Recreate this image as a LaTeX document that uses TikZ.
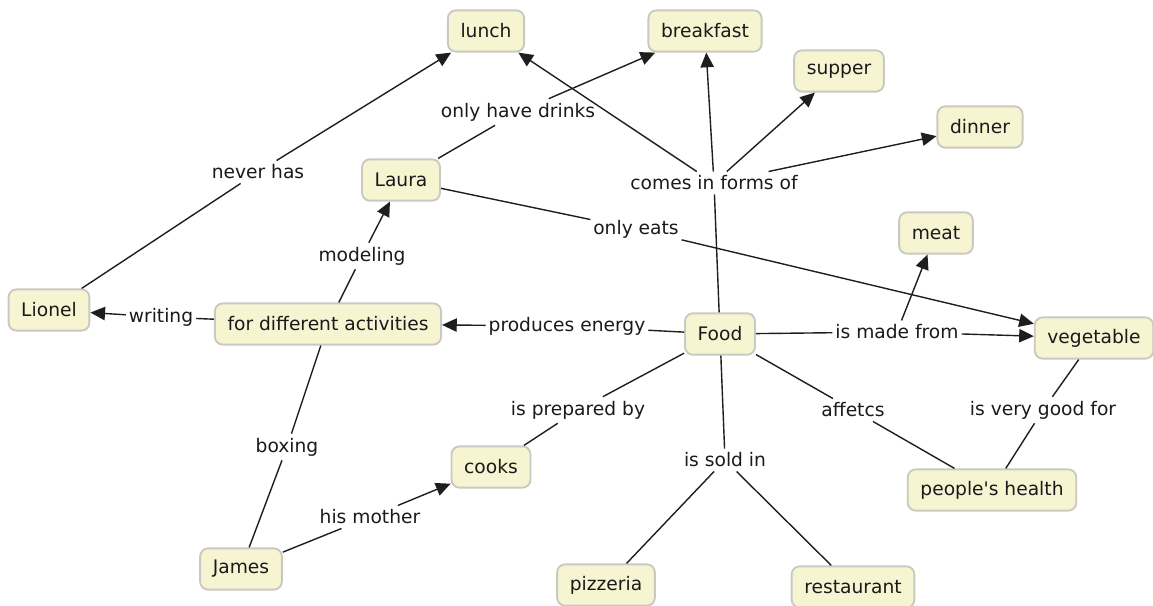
\documentclass[tikz,border=0pt]{standalone}
\usepackage{fontspec}
\setmainfont{DejaVu Sans}[Ligatures=TeXOff]
\usetikzlibrary{arrows.meta}
\definecolor{conceptfill}{HTML}{F7F4D2}
\definecolor{conceptdraw}{HTML}{C9C9C1}
\definecolor{linkcol}{HTML}{1E1E1E}
\definecolor{textcol}{HTML}{1A1A1A}
\begin{document}
\begin{tikzpicture}[x=0.75pt,y=-0.75pt,
  every node/.style={font=\fontsize{14}{16}\selectfont, text=textcol},
  concept/.style={draw=conceptdraw, fill=conceptfill, line width=1.4pt,
    rounded corners=6pt, inner xsep=9.5pt, minimum height=31pt},
  lbl/.style={fill=white, inner xsep=2pt, inner ysep=3pt},
  link/.style={draw=linkcol, line width=1.05pt},
  arr/.style={link, -{Triangle[length=11pt,width=10pt]}}]
\useasboundingbox (0,0) rectangle (1153,606);

% concepts
\node[concept] (lunch)     at (486,31)  {lunch};
\node[concept] (breakfast) at (705,31)  {breakfast};
\node[concept] (supper)    at (839,71)  {supper};
\node[concept] (dinner)    at (980,127) {dinner};
\node[concept] (laura)     at (401,180) {Laura};
\node[concept] (meat)      at (936,233) {meat};
\node[concept] (lionel)    at (49,310)  {Lionel};
\node[concept] (activ)     at (328,324) {for different activities};
\node[concept] (food)      at (720,334) {Food};
\node[concept] (veg)       at (1094,338) {vegetable};
\node[concept] (cooks)     at (491,467) {cooks};
\node[concept] (health)    at (992,490) {people's health};
\node[concept] (james)     at (241,569) {James};
\node[concept] (pizzeria)  at (606,585) {pizzeria};
\node[concept] (restaurant) at (853,587) {restaurant};

% linking phrases
\node[lbl] (neverhas)  at (258,172) {never has};
\node[lbl] (drinks)    at (518,112) {only have drinks};
\node[lbl] (forms)     at (714,183) {comes in forms of};
\node[lbl] (onlyeats)  at (636,229) {only eats};
\node[lbl] (modeling)  at (362,256) {modeling};
\node[lbl] (writing)   at (161,317) {writing};
\node[lbl] (energy)    at (567,326) {produces energy};
\node[lbl] (madefrom)  at (897,332) {is made from};
\node[lbl] (prepared)  at (578,410) {is prepared by};
\node[lbl] (affetcs)   at (853,410) {affetcs};
\node[lbl] (goodfor)   at (1043,410) {is very good for};
\node[lbl] (boxing)    at (287,447) {boxing};
\node[lbl] (soldin)    at (725,460) {is sold in};
\node[lbl] (mother)    at (370,517) {his mother};

% connections
\draw[link] (lionel) -- (neverhas);
\draw[arr]  (neverhas) -- (lunch);
\draw[link] (laura) -- (drinks);
\draw[arr]  (drinks) -- (breakfast);
\draw[link] (food) -- (forms);
\draw[arr]  (forms) -- (lunch);
\draw[arr]  (forms) -- (breakfast);
\draw[arr]  (forms) -- (supper);
\draw[arr]  (forms) -- (dinner);
\draw[link] (laura) -- (onlyeats);
\draw[arr]  (onlyeats) -- (veg);
\draw[link] (activ) -- (modeling);
\draw[arr]  (modeling) -- (laura);
\draw[link] (activ) -- (writing);
\draw[arr]  (writing) -- (lionel);
\draw[link] (food) -- (energy);
\draw[arr]  (energy) -- (activ);
\draw[link] (food) -- (madefrom);
\draw[arr]  (madefrom) -- (veg);
\draw[arr]  (madefrom) -- (meat);
\draw[link] (food) -- (prepared);
\draw[link] (prepared) -- (cooks);
\draw[link] (food) -- (affetcs);
\draw[link] (affetcs) -- (health);
\draw[link] (veg) -- (goodfor);
\draw[link] (goodfor) -- (health);
\draw[link] (activ) -- (boxing);
\draw[link] (boxing) -- (james);
\draw[link] (food) -- (soldin);
\draw[link] (soldin) -- (pizzeria);
\draw[link] (soldin) -- (restaurant);
\draw[link] (james) -- (mother);
\draw[arr]  (mother) -- (cooks);
\end{tikzpicture}
\end{document}
